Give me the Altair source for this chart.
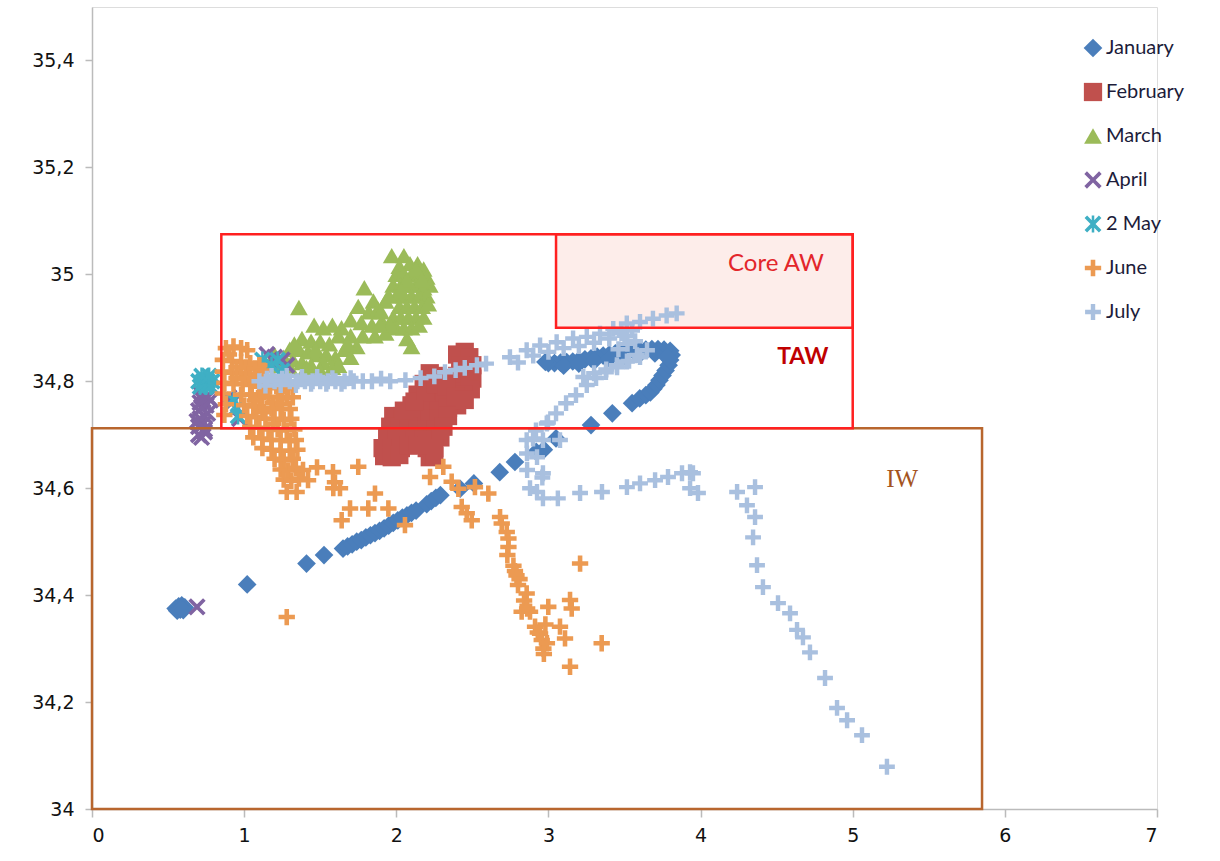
import altair as alt
import pandas as pd

# Temperature (x) / salinity (y) profiles by month, with water-mass boxes.
MONTHS = ["January", "February", "March", "April", "2 May", "June", "July"]
COLORS = ["#4A7EBB", "#C0504D", "#9BBB59", "#8064A2", "#3FAFC4", "#EC9A52", "#A9C0DF"]

X_PATH = "M-1,-0.7L-0.7,-1L0,-0.3L0.7,-1L1,-0.7L0.3,0L1,0.7L0.7,1L0,0.3L-0.7,1L-1,0.7L-0.3,0Z"
STAR_PATH = X_PATH + "M-0.15,-1L0.15,-1L0.15,1L-0.15,1Z"
PLUS_PATH = ("M-1,-0.28L-0.28,-0.28L-0.28,-1L0.28,-1L0.28,-0.28L1,-0.28L1,0.28L0.28,0.28"
             "L0.28,1L-0.28,1L-0.28,0.28L-1,0.28Z")
SHAPES = ["diamond", "square", "triangle-up", X_PATH, STAR_PATH, PLUS_PATH, PLUS_PATH]
SIZES = [350, 250, 430, 210, 250, 340, 330]

jan_t = [0.55, 0.57, 0.59, 0.61, 0.56, 0.58, 0.60,
         1.02, 1.41, 1.525,
         1.65, 1.68, 1.71, 1.74, 1.77, 1.80, 1.83, 1.86, 1.89, 1.92, 1.95, 1.98,
         2.01, 2.04, 2.07, 2.10, 2.13, 2.20, 2.23, 2.26, 2.29,
         2.42, 2.51, 2.68, 2.78, 2.92, 2.97, 3.05, 3.28, 3.42,
         3.55, 3.60, 3.64, 3.67, 3.69, 3.71, 3.73, 3.75, 3.77, 3.79, 3.80, 3.81,
         3.80, 3.76, 3.72, 3.68, 3.64, 3.60, 3.56, 3.52, 3.48, 3.44, 3.40, 3.36,
         3.32, 3.28, 3.24, 3.20, 3.16, 3.12, 3.08, 3.04, 3.00, 2.98,
         3.10, 3.20, 3.30, 3.40, 3.50, 3.60, 3.70, 3.78]
jan_s = [34.375, 34.379, 34.381, 34.377, 34.371, 34.373, 34.372,
         34.42, 34.459, 34.475,
         34.487, 34.491, 34.495, 34.50, 34.503, 34.508, 34.512, 34.516, 34.52, 34.525, 34.53, 34.535,
         34.54, 34.545, 34.549, 34.554, 34.558, 34.57, 34.576, 34.582, 34.587,
         34.599, 34.609, 34.63, 34.649, 34.668, 34.672, 34.693, 34.718, 34.74,
         34.759, 34.768, 34.774, 34.779, 34.786, 34.793, 34.802, 34.811, 34.82, 34.83, 34.84, 34.849,
         34.857, 34.859, 34.86, 34.86, 34.859, 34.858, 34.857, 34.856, 34.854, 34.852, 34.85, 34.848,
         34.846, 34.843, 34.841, 34.839, 34.837, 34.836, 34.835, 34.834, 34.834, 34.836,
         34.829, 34.833, 34.838, 34.843, 34.848, 34.851, 34.852, 34.845]

feb_t = [2.40, 2.45, 2.48, 2.50, 2.42, 2.46, 2.50, 2.40, 2.45, 2.49, 2.42,
         2.22, 2.27, 2.32, 2.36, 2.18, 2.24, 2.30, 2.36, 2.14, 2.20, 2.26, 2.32, 2.38, 2.44,
         2.10, 2.16, 2.22, 2.28, 2.34, 2.40,
         1.98, 2.04, 2.10, 2.16, 2.22, 2.28, 2.34, 1.96, 2.02, 2.08, 2.14, 2.20, 2.26, 2.31,
         1.94, 2.00, 2.06, 2.12, 2.18, 2.24, 2.29,
         1.91, 1.97, 2.03, 1.92, 1.97, 2.02, 2.20, 2.25, 2.22, 2.25, 2.08, 2.14,
         2.05, 2.12, 2.19, 2.26, 2.33, 2.39, 2.45]
feb_s = [34.85, 34.855, 34.845, 34.83, 34.83, 34.82, 34.805, 34.81, 34.80, 34.785, 34.79,
         34.815, 34.81, 34.805, 34.80, 34.795, 34.79, 34.785, 34.78, 34.775, 34.77, 34.765, 34.765, 34.77, 34.775,
         34.755, 34.75, 34.745, 34.745, 34.75, 34.755,
         34.735, 34.735, 34.735, 34.73, 34.73, 34.73, 34.735, 34.715, 34.715, 34.715, 34.71, 34.71, 34.71, 34.715,
         34.695, 34.695, 34.695, 34.69, 34.69, 34.69, 34.695,
         34.675, 34.675, 34.675, 34.66, 34.658, 34.662, 34.675, 34.675, 34.658, 34.66, 34.68, 34.68,
         34.745, 34.762, 34.782, 34.795, 34.79, 34.772, 34.765]

mar_t = [1.97, 2.05, 2.09, 2.14, 2.18, 2.02,
         2.00, 2.05, 2.10, 2.15, 2.20, 2.22, 1.98, 2.03, 2.08, 2.13, 2.18,
         2.00, 2.05, 2.10, 2.15, 2.20, 2.02, 2.07, 2.12, 2.17, 2.21,
         1.98, 2.03, 2.08, 2.13, 2.18, 2.00, 2.05, 2.10, 2.15, 2.07, 2.10,
         1.79, 1.85, 1.75, 1.82, 1.88, 1.93, 1.70, 1.77, 1.84, 1.91,
         1.64, 1.58, 1.52, 1.46, 1.62, 1.70, 1.78, 1.86, 1.93,
         1.38, 1.44, 1.50, 1.56, 1.66, 1.74, 1.30, 1.36, 1.42, 1.48, 1.54, 1.60,
         1.26, 1.32, 1.38, 1.44, 1.52, 1.58, 1.41, 1.24,
         1.36, 1.20, 1.18, 1.30, 1.50, 1.62, 1.70,
         2.13, 2.17, 2.07, 2.03, 1.95, 1.90, 1.96, 1.89, 1.33, 1.47, 1.68]
mar_s = [35.035, 35.035, 35.02, 35.02, 35.01, 35.015,
         35.0, 35.0, 35.0, 35.0, 34.995, 34.98, 34.98, 34.98, 34.98, 34.98, 34.975,
         34.96, 34.96, 34.96, 34.96, 34.96, 34.94, 34.94, 34.94, 34.94, 34.945,
         34.92, 34.92, 34.92, 34.92, 34.92, 34.90, 34.90, 34.90, 34.905, 34.88, 34.865,
         34.975, 34.95, 34.94, 34.93, 34.935, 34.95, 34.915, 34.91, 34.905, 34.91,
         34.90, 34.905, 34.90, 34.905, 34.885, 34.885, 34.885, 34.885, 34.89,
         34.88, 34.875, 34.875, 34.87, 34.86, 34.865, 34.86, 34.86, 34.855, 34.85, 34.85, 34.845,
         34.845, 34.84, 34.835, 34.83, 34.835, 34.826, 34.826, 34.83,
         34.938, 34.85, 34.835, 34.825, 34.82, 34.83, 34.845,
         35.01, 34.99, 34.99, 34.97, 34.96, 34.93, 34.905, 34.905, 34.87, 34.86, 34.87]

apr_t = [0.70, 0.72, 0.74, 0.70, 0.73, 0.71, 0.74, 0.70, 0.72, 0.75, 0.71, 0.73, 0.76,
         0.72, 0.78, 0.74, 0.69, 0.76, 0.92, 0.95, 0.90, 0.97,
         1.15, 1.20, 1.25, 1.28, 0.69]
apr_s = [34.70, 34.695, 34.705, 34.715, 34.72, 34.73, 34.735, 34.745, 34.75, 34.755, 34.76, 34.765, 34.77,
         34.775, 34.765, 34.71, 34.725, 34.74, 34.76, 34.75, 34.77, 34.73,
         34.85, 34.845, 34.84, 34.83, 34.378]

may_t = [0.70, 0.73, 0.76, 0.79, 0.71, 0.75, 0.78, 0.72, 0.77,
         0.93, 0.95, 0.96, 1.12, 1.18, 1.22, 1.25]
may_s = [34.80, 34.80, 34.80, 34.80, 34.79, 34.79, 34.79, 34.81, 34.81,
         34.765, 34.75, 34.735, 34.84, 34.83, 34.84, 34.82]

jun_t = [0.88, 0.93, 0.98, 1.02,
         0.86, 0.92, 0.98, 1.04, 1.10,
         0.86, 0.92, 0.98, 1.04, 1.10, 1.15,
         0.87, 0.93, 0.99, 1.05, 1.11, 1.17, 1.23, 1.29,
         0.86, 0.98, 1.04, 1.10, 1.16, 1.22, 1.28, 1.32,
         0.88, 1.00, 1.06, 1.12, 1.18, 1.24, 1.30,
         0.87, 1.02, 1.08, 1.14, 1.20, 1.26, 1.31,
         1.04, 1.10, 1.16, 1.22, 1.28, 1.33,
         1.06, 1.12, 1.18, 1.24, 1.30, 1.34,
         1.12, 1.18, 1.24, 1.30, 1.35,
         1.20, 1.26, 1.32, 1.24, 1.29, 1.34, 1.26, 1.31, 1.36,
         0.90, 0.95, 1.01, 1.07, 1.13, 1.19, 1.25, 0.95, 1.01, 1.07, 1.13, 1.19, 1.25, 1.07, 1.13, 1.19,
         1.28, 1.345, 1.387, 1.479, 1.42, 1.584, 1.597, 1.586, 1.63, 1.75, 1.86,
         1.696, 1.816, 1.948, 1.641, 2.057, 1.28,
         2.222, 2.309, 2.364, 2.408, 2.517, 2.605, 2.43, 2.463, 2.496,
         2.682, 2.693, 2.726, 2.737, 2.737, 2.73, 2.77, 2.78, 2.79, 2.81, 2.80,
         2.857, 2.84, 2.824, 2.879, 2.86, 2.912, 2.93, 2.945, 2.956, 2.967, 2.98, 2.99, 2.97,
         2.999, 3.076, 3.109, 3.142, 3.153, 3.208, 3.142, 3.35]
jun_s = [34.862, 34.865, 34.862, 34.858,
         34.84, 34.838, 34.836, 34.834, 34.83,
         34.818, 34.816, 34.815, 34.813, 34.81, 34.808,
         34.797, 34.795, 34.795, 34.793, 34.79, 34.79, 34.787, 34.787,
         34.777, 34.775, 34.775, 34.772, 34.77, 34.77, 34.768, 34.77,
         34.757, 34.755, 34.753, 34.75, 34.75, 34.748, 34.748,
         34.737, 34.735, 34.733, 34.73, 34.73, 34.728, 34.73,
         34.715, 34.713, 34.71, 34.71, 34.708, 34.71,
         34.695, 34.693, 34.69, 34.69, 34.688, 34.69,
         34.675, 34.672, 34.67, 34.67, 34.672,
         34.655, 34.652, 34.655, 34.635, 34.633, 34.638, 34.616, 34.614, 34.618,
         34.85, 34.826, 34.826, 34.824, 34.82, 34.8, 34.78, 34.806, 34.805, 34.803, 34.78, 34.76, 34.758,
         34.764, 34.742, 34.72,
         34.593, 34.593, 34.634, 34.639, 34.615, 34.63, 34.611, 34.60, 34.60, 34.64, 34.59,
         34.562, 34.562, 34.562, 34.54, 34.531, 34.359,
         34.621, 34.64, 34.612, 34.599, 34.602, 34.59, 34.565, 34.553, 34.54,
         34.546, 34.534, 34.518, 34.506, 34.49, 34.475, 34.455, 34.445, 34.437, 34.43, 34.419,
         34.403, 34.39, 34.369, 34.369, 34.375, 34.341, 34.33, 34.328, 34.316, 34.30, 34.345, 34.31, 34.29,
         34.378, 34.341, 34.319, 34.391, 34.375, 34.459, 34.266, 34.31]

jul_t = [1.10, 1.15, 1.20, 1.25, 1.30, 1.35, 1.40, 1.45, 1.50, 1.55, 1.60, 1.66, 1.72, 1.78, 1.84, 1.90, 1.96,
         1.14, 1.24, 1.34, 1.44, 1.54, 1.18, 1.28, 1.38, 1.48, 1.58, 1.64, 1.70,
         2.06, 2.16, 2.25, 2.32, 2.39, 2.45, 2.53, 2.59,
         2.747, 2.857, 2.945, 3.054, 3.162, 3.252, 3.339, 3.426, 3.515, 3.602, 3.687, 3.777, 3.843,
         2.80, 2.90, 3.00, 3.10, 3.20, 3.30, 3.40, 3.48, 3.55,
         2.857, 2.918, 2.989, 3.05, 3.116, 3.181, 3.252, 3.313, 3.378, 3.451, 3.516, 3.582, 3.648,
         3.229, 3.30, 3.38, 3.45, 3.53, 3.602, 3.46, 3.52, 3.57, 3.50,
         2.997, 2.899, 2.964, 3.076, 2.859, 2.925, 2.964, 2.879, 2.925, 2.964, 3.062, 2.86, 2.96,
         3.208, 3.352, 3.516, 3.602, 3.701, 3.786, 3.878, 3.931, 3.95, 3.931, 3.983, 4.24, 4.358,
         4.305, 4.358, 4.345, 4.371, 4.41, 4.509, 4.588, 4.634, 4.673, 4.719, 4.818, 4.897, 4.963,
         5.061, 5.225]
jul_s = [34.80, 34.805, 34.80, 34.805, 34.80, 34.80, 34.80, 34.80, 34.80, 34.80, 34.80, 34.80, 34.80, 34.80,
         34.80, 34.805, 34.80,
         34.792, 34.793, 34.793, 34.795, 34.795, 34.81, 34.81, 34.808, 34.808, 34.806, 34.795, 34.806,
         34.802, 34.806, 34.809, 34.817, 34.821, 34.825, 34.83, 34.833,
         34.845, 34.858, 34.867, 34.873, 34.88, 34.883, 34.889, 34.898, 34.908, 34.911, 34.917, 34.923, 34.927,
         34.835, 34.848, 34.855, 34.862, 34.866, 34.872, 34.88, 34.89, 34.895,
         34.69, 34.708, 34.721, 34.74, 34.759, 34.774, 34.793, 34.806, 34.817, 34.826, 34.837, 34.849, 34.858,
         34.808, 34.815, 34.822, 34.83, 34.838, 34.845, 34.86, 34.87, 34.875, 34.885,
         34.723, 34.693, 34.69, 34.69, 34.665, 34.658, 34.628, 34.60, 34.593, 34.581, 34.581, 34.634, 34.62,
         34.591, 34.593, 34.602, 34.609, 34.615, 34.621, 34.628, 34.63, 34.628, 34.60, 34.591, 34.593, 34.602,
         34.568, 34.546, 34.508, 34.456, 34.415, 34.385, 34.366, 34.335, 34.321, 34.293, 34.245, 34.189, 34.166,
         34.138, 34.079]

series = [("January", jan_t, jan_s), ("February", feb_t, feb_s), ("March", mar_t, mar_s),
          ("April", apr_t, apr_s), ("2 May", may_t, may_s), ("June", jun_t, jun_s),
          ("July", jul_t, jul_s)]
points = pd.DataFrame(
    [{"month": m, "temp": t, "sal": s} for m, ts, ss in series for t, s in zip(ts, ss)]
)

# Water-mass boxes: IW, TAW and Core AW
boxes = pd.DataFrame({
    "name": ["IW", "TAW", "Core AW"],
    "t1": [0.0, 0.85, 3.05], "t2": [5.85, 5.0, 5.0],
    "s1": [34.0, 34.712, 34.9], "s2": [34.712, 35.075, 35.075],
    "edge": ["#B8662E", "#FF2020", "#FF2020"],
})
core = boxes[boxes["name"] == "Core AW"]

labels = pd.DataFrame({
    "name": ["Core AW", "TAW", "IW"],
    "temp": [4.81, 4.84, 5.22],
    "sal": [35.02, 34.845, 34.617],
})

FONT_AX = "DejaVu Sans"
x_axis = alt.Axis(values=[0, 1, 2, 3, 4, 5, 6, 7], title=None, grid=False,
                  labelFont=FONT_AX, labelFontSize=19, labelColor="#111111",
                  labelPadding=9, tickSize=8, tickColor="#BBBBBB",
                  domainColor="#BBBBBB", domainWidth=1.5, tickWidth=1.5)
y_axis = alt.Axis(values=[34, 34.2, 34.4, 34.6, 34.8, 35, 35.2, 35.4], title=None, grid=False,
                  labelExpr="replace(format(datum.value, '.1~f'), '.', ',')",
                  labelFont=FONT_AX, labelFontSize=19, labelColor="#111111",
                  labelPadding=11, tickSize=7, tickColor="#BBBBBB",
                  domainColor="#BBBBBB", domainWidth=1.5, tickWidth=1.5)
xs = alt.Scale(domain=[0, 7], nice=False, zero=False)
ys = alt.Scale(domain=[34, 35.5], nice=False, zero=False)

core_fill = alt.Chart(core).mark_rect(fill="#FDEDEA", strokeWidth=0).encode(
    x=alt.X("t1:Q", scale=xs, axis=x_axis), x2="t2:Q",
    y=alt.Y("s1:Q", scale=ys, axis=y_axis), y2="s2:Q",
)

dots = alt.Chart(points).mark_point(filled=True, opacity=1, strokeWidth=0).encode(
    x=alt.X("temp:Q", scale=xs, axis=x_axis),
    y=alt.Y("sal:Q", scale=ys, axis=y_axis),
    color=alt.Color("month:N", scale=alt.Scale(domain=MONTHS, range=COLORS),
                    legend=alt.Legend(title=None, orient="none", legendX=991, legendY=31,
                                      labelFont="Lato", labelFontSize=20, labelColor="#1C1C3A",
                                      symbolSize=150, rowPadding=24, labelOffset=3,
                                      symbolStrokeWidth=0, padding=0)),
    shape=alt.Shape("month:N", scale=alt.Scale(domain=MONTHS, range=SHAPES)),
    size=alt.Size("month:O", scale=alt.Scale(domain=MONTHS, range=SIZES), legend=None),
)

frames = alt.Chart(boxes).mark_rect(fillOpacity=0, strokeWidth=2.5).encode(
    x=alt.X("t1:Q", scale=xs, axis=x_axis), x2="t2:Q",
    y=alt.Y("s1:Q", scale=ys, axis=y_axis), y2="s2:Q",
    stroke=alt.Stroke("edge:N", scale=None),
)


def label(name, **style):
    return alt.Chart(labels[labels["name"] == name]).mark_text(baseline="middle", **style).encode(
        x=alt.X("temp:Q", scale=xs, axis=x_axis),
        y=alt.Y("sal:Q", scale=ys, axis=y_axis),
        text="name:N",
    )


core_txt = label("Core AW", align="right", font="Lato", fontSize=24, color="#E3262B")
taw_txt = label("TAW", align="right", font="Lato", fontSize=23, fontWeight="bold", color="#C00000")
iw_txt = label("IW", align="left", font="Liberation Serif", fontSize=25, color="#A4541F")

chart = alt.layer(core_fill, dots, frames, core_txt, taw_txt, iw_txt).properties(
    width=1065, height=802,
    autosize=alt.AutoSizeParams(type="none"),
    padding={"left": 92, "top": 7, "right": 63, "bottom": 52},
).configure_view(stroke=None).configure(background="white")

chart.save("out.html", embed_options={"renderer": "svg", "actions": False})
